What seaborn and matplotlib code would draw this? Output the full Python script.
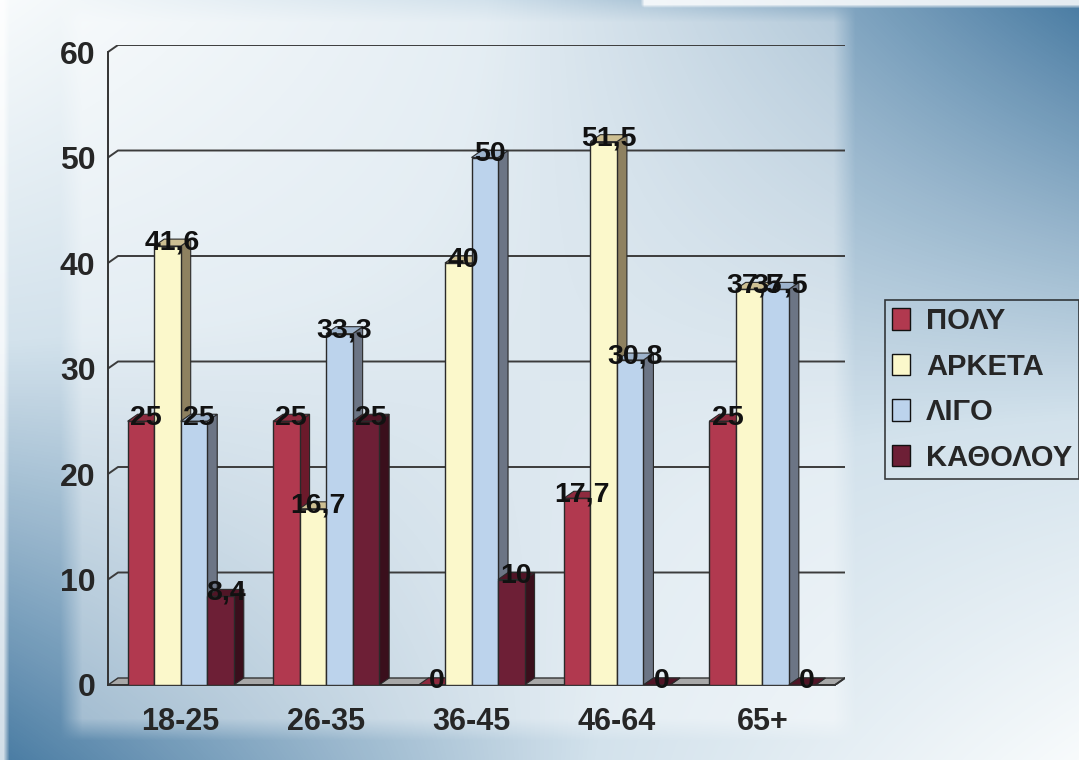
import numpy as np
import pandas as pd
import matplotlib
matplotlib.use("Agg")
import matplotlib.pyplot as plt
import seaborn as sns
from matplotlib.patches import Polygon, Patch
from matplotlib.colors import LinearSegmentedColormap

# --- Data ---
age_groups = ["18-25", "26-35", "36-45", "46-64", "65+"]
levels = ["ΠΟΛΥ", "ΑΡΚΕΤΑ", "ΛΙΓΟ", "ΚΑΘΟΛΟΥ"]
polu = [25, 25, 0, 17.7, 25]
arketa = [41.6, 16.7, 40, 51.5, 37.5]
ligo = [25, 33.3, 50, 30.8, 37.5]
katholou = [8.4, 25, 10, 0, 0]
y_ticks = [0, 10, 20, 30, 40, 50, 60]

# --- Style ---
sns.set_style("white")
plt.rcParams["font.family"] = ["Liberation Sans", "DejaVu Sans"]
plt.rcParams["font.weight"] = "bold"

front_col = {"ΠΟΛΥ": "#b1394f", "ΑΡΚΕΤΑ": "#fbf8cb", "ΛΙΓΟ": "#bcd3ec", "ΚΑΘΟΛΟΥ": "#6d1f36"}
side_col = {"ΠΟΛΥ": "#6b1a2b", "ΑΡΚΕΤΑ": "#8e8160", "ΛΙΓΟ": "#6c7585", "ΚΑΘΟΛΟΥ": "#3a0f1c"}
top_col = {"ΠΟΛΥ": "#8e2a3e", "ΑΡΚΕΤΑ": "#cdbf92", "ΛΙΓΟ": "#9db3cc", "ΚΑΘΟΛΟΥ": "#501526"}
EDGE = "#2a2a2a"

W, H = 1079, 760
PX_CAT = 145.4      # pixels per category
PX_UNIT = 10.55     # pixels per y unit
DX = 10 / PX_CAT    # 3D depth offset
DY = 7 / PX_UNIT

df = pd.DataFrame({
    "age": age_groups * 4,
    "level": [lv for lv in levels for _ in age_groups],
    "value": polu + arketa + ligo + katholou,
})

fig = plt.figure(figsize=(W / 100, H / 100), dpi=100)

# slide background: white top-left / bottom-right, blue on the other corners
py, px = np.mgrid[0:H, 0:W].astype(float)
u, v = px / W, py / H
w = u * (1 - v) + (1 - u) * v
bg_cmap = LinearSegmentedColormap.from_list(
    "bg", [(0, "#f8fbfc"), (0.45, "#d3e2ec"), (1, "#4a7ca3")])
rgb = bg_cmap(w)[..., :3]


def soft_box(x0, x1, y0, y1, blur):
    return (np.clip((px - x0) / blur, 0, 1) * np.clip((x1 - px) / blur, 0, 1)
            * np.clip((py - y0) / blur, 0, 1) * np.clip((y1 - py) / blur, 0, 1))


# lighter chart area and scan borders
veil = 0.4 * soft_box(60, 855, 0, 740, 22)
veil = np.maximum(veil, 0.75 * soft_box(-20, 9, -20, H + 20, 6))
veil = np.maximum(veil, 0.85 * soft_box(640, W + 20, -20, 8, 4))
rgb = rgb * (1 - veil[..., None]) + veil[..., None]

bg = fig.add_axes([0, 0, 1, 1], zorder=-5)
bg.imshow(rgb, aspect="auto", extent=(0, W, H, 0))
bg.axis("off")

ax = fig.add_axes([108 / W, 75 / H, (845 - 108) / W, (685 - 45) / H])
ax.patch.set_alpha(0)

sns.barplot(
    data=df, x="age", y="value", hue="level",
    order=age_groups, hue_order=levels, palette=front_col,
    width=0.73, saturation=1, errorbar=None, legend=False,
    edgecolor=EDGE, linewidth=1, ax=ax,
)

ax.set_xlim(-0.5, 4.5 + DX)
ax.set_ylim(0, 60 + DY)

# back wall gridlines + floor
for val in y_ticks[1:]:
    ax.plot([-0.5, -0.5 + DX, 4.5 + DX], [val, val + DY, val + DY],
            color="#3c3c3c", lw=1.4, zorder=1)
floor = Polygon([(-0.5, 0), (4.5, 0), (4.5 + DX, DY), (-0.5 + DX, DY)],
                closed=True, facecolor="#a8a8a8", edgecolor="#333333", lw=1, zorder=1)
ax.add_patch(floor)
ax.plot([4.5, 4.5 + DX], [0, DY], color="#333333", lw=1.4, zorder=1)

# 3D faces and value labels
for k, (cont, lv) in enumerate(zip(ax.containers, levels)):
    for bar in cont:
        x0, bw, h = bar.get_x(), bar.get_width(), bar.get_height()
        bar.set_zorder(3 + 2 * k)
        side = Polygon([(x0 + bw, 0), (x0 + bw + DX, DY), (x0 + bw + DX, h + DY), (x0 + bw, h)],
                       closed=True, facecolor=side_col[lv], edgecolor=EDGE, lw=0.8, zorder=2 + 2 * k)
        top = Polygon([(x0, h), (x0 + DX, h + DY), (x0 + bw + DX, h + DY), (x0 + bw, h)],
                      closed=True, facecolor=top_col[lv], edgecolor=EDGE, lw=0.8, zorder=2 + 2 * k)
        ax.add_patch(side)
        ax.add_patch(top)
        ax.text(x0 + bw / 2 + DX / 2, h + DY / 2, f"{h:g}".replace(".", ","),
                ha="center", va="center", fontsize=20.5, fontweight="bold",
                color="#111111", zorder=30)

# axes lines and ticks
for s in ["top", "right"]:
    ax.spines[s].set_visible(False)
ax.spines["left"].set_bounds(0, 60)
ax.spines["bottom"].set_bounds(-0.5, 4.5)
for s in ["left", "bottom"]:
    ax.spines[s].set_color("#333333")
    ax.spines[s].set_linewidth(1.4)

ax.set_yticks(y_ticks)
ax.set_yticklabels([str(t) for t in y_ticks], fontsize=23, fontweight="bold")
ax.tick_params(axis="y", length=6, width=1.4, color="#333333", pad=3)

ax.set_xticks(range(len(age_groups)))
ax.set_xticklabels(age_groups, fontsize=22, fontweight="bold")
ax.set_xticks(np.arange(-0.5, len(age_groups)), minor=True)
ax.tick_params(axis="x", which="major", length=0, pad=16)
ax.tick_params(axis="x", which="minor", length=7, width=1.4, color="#333333")
ax.set_xlabel("")
ax.set_ylabel("")
ax.grid(False)

handles = [Patch(facecolor=front_col[lv], edgecolor="#111111", lw=1) for lv in levels]
leg = fig.legend(handles, levels, loc="upper left", bbox_to_anchor=(885 / W, 1 - 300 / H),
                 frameon=True, fancybox=False, edgecolor="#111111",
                 prop={"size": 21, "weight": "bold"}, handlelength=0.6, handleheight=0.75,
                 handletextpad=0.55, labelspacing=0.6, borderpad=0.25, borderaxespad=0)
leg.get_frame().set_facecolor("none")
leg.get_frame().set_linewidth(1.2)

fig.savefig("out.png", dpi=100)
